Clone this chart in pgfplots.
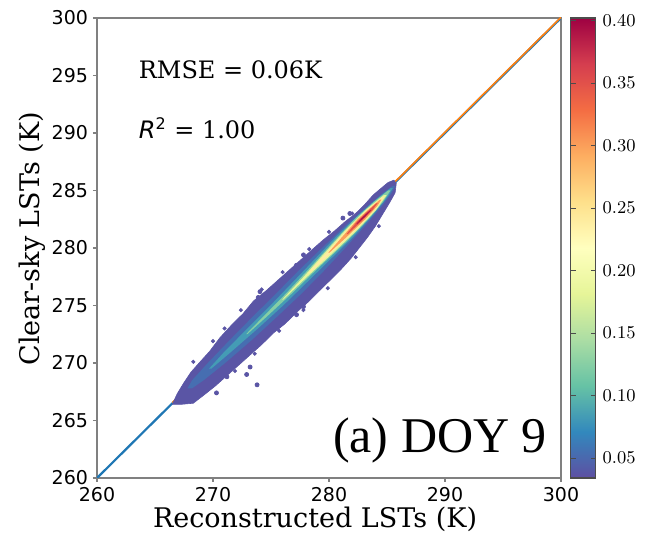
\documentclass[border=0pt]{standalone}
\usepackage{fontspec}
\setmainfont{DejaVu Serif}
\newfontfamily\djs{DejaVu Sans}
\newfontfamily\tnr{Liberation Serif}
\usepackage{pgfplots}
\pgfplotsset{compat=1.18}

% Spectral_r
\pgfplotsset{colormap={spectralr}{HTML=(5E4FA2) HTML=(3288BD) HTML=(66C2A5) HTML=(ABDDA4) HTML=(E6F598) HTML=(FFFFBF) HTML=(FEE08B) HTML=(FDAE61) HTML=(F46D43) HTML=(D53E4F) HTML=(9E0142)}}
\definecolor{sp0}{HTML}{5E4FA2}
\definecolor{sp1}{HTML}{3288BD}
\definecolor{sp2}{HTML}{66C2A5}
\definecolor{sp3}{HTML}{ABDDA4}
\definecolor{sp4}{HTML}{E6F598}
\definecolor{sp5}{HTML}{FFFFBF}
\definecolor{sp6}{HTML}{FEE08B}
\definecolor{sp7}{HTML}{FDAE61}
\definecolor{sp8}{HTML}{F46D43}
\definecolor{sp9}{HTML}{D53E4F}
\definecolor{sp10}{HTML}{9E0142}
\colorlet{lv1}{sp0!90!sp1}
\colorlet{lv2}{sp1!55!sp0}
\colorlet{lv3}{sp2!35!sp1}
\colorlet{lv4}{sp3!45!sp2}
\colorlet{lv5}{sp4}
\colorlet{lv6}{sp6!60!sp5}
\colorlet{lv7}{sp8!25!sp7}
\colorlet{lv8}{sp9!60!sp8}
\colorlet{lv9}{sp10!70!sp9}
\definecolor{tabblue}{HTML}{1F77B4}
\definecolor{taborange}{HTML}{FF7F0E}
\definecolor{frame}{HTML}{808080}

\begin{document}
\begin{tikzpicture}
\begin{axis}[
    name=ax,
    width=232pt, height=230pt,
    scale only axis,
    xmin=260, xmax=300,
    ymin=260, ymax=300,
    xtick={260,270,280,290,300},
    ytick={260,265,270,275,280,285,290,295,300},
    axis line style={frame, line width=0.8pt},
    tick style={frame, line width=0.6pt},
    tick align=outside,
    major tick length=2pt,
    xtick pos=bottom, ytick pos=left,
    xlabel={Reconstructed LSTs (K)},
    ylabel={Clear-sky LSTs (K)},
    label style={font=\fontsize{13.5}{16}\selectfont},
    xlabel style={at={(axis description cs:0.47,-0.09)}, anchor=center},
    ylabel style={at={(axis description cs:-0.14,0.52)}, anchor=center},
    tick label style={font=\djs\fontsize{9.5}{11}\selectfont},
    xticklabel style={yshift=1pt},
    yticklabel style={xshift=1pt},
    /pgf/number format/assume math mode=true,
    colormap name=spectralr,
    colorbar,
    point meta min=0.034, point meta max=0.402,
    colorbar style={
        at={(parent axis.north east)}, anchor=north west,
        xshift=-3.7pt,
        width=12.5pt,
        ytick={0.05,0.10,0.15,0.20,0.25,0.30,0.35,0.40},
        yticklabel style={font=\djs\fontsize{9.5}{11}\selectfont,
            /pgf/number format/.cd, fixed, fixed zerofill, precision=2},
        axis line style={black!70, line width=0.6pt},
        tick style={black!70},
        major tick length=2.5pt,
        scaled y ticks=false,
    },
]

% 1:1 line and fitted line
\addplot[tabblue, line width=1.1pt] coordinates {(260,260) (300,300)};
\addplot[taborange, line width=0.8pt, yshift=0.35pt] coordinates {(266.5,266.5) (300,300)};

% density layers of the point cloud, outermost first
\addplot[fill=lv1, draw=lv1, line width=0.3pt] coordinates {
 (266.5,266.4) (266.9,267.3) (267.5,268.3) (268.1,269.2) (268.8,270.0)
 (269.7,271.0) (270.6,272.2) (271.6,273.3) (272.6,274.3) (273.5,275.4)
 (274.6,276.3) (275.6,277.2) (276.6,278.1) (277.6,279.0) (278.6,279.9)
 (279.5,280.7) (280.5,281.5) (281.4,282.3) (282.3,283.0) (283.1,283.8)
 (283.8,284.6) (284.5,285.2) (285.1,285.7) (285.6,285.9)
 (285.8,285.6) (285.7,284.8) (285.2,283.9) (284.6,282.9) (284.0,281.9)
 (283.3,280.9) (282.6,280.0) (281.9,279.1) (281.0,278.1) (280.1,277.2)
 (279.2,276.3) (278.2,275.3) (277.2,274.4) (276.2,273.4) (275.2,272.6)
 (274.2,271.6) (273.2,270.7) (272.2,269.8) (271.2,268.9) (270.2,268.0)
 (269.2,267.2) (268.3,266.5) (267.2,266.4)
} -- cycle;

\addplot[fill=lv2, draw=none] coordinates {
 (267.8,267.8) (268.2,268.5) (269.55,270.0) (271.45,272.0) (273.4,274.0)
 (275.4,276.0) (277.35,278.0) (279.4,280.0) (281.48,282.0) (283.15,283.5)
 (284.55,284.7) (285.48,285.4)
 (285.72,285.4) (285.35,284.7) (284.45,283.5) (283.18,282.0) (281.4,280.0)
 (279.55,278.0) (277.6,276.0) (275.5,274.0) (273.35,272.0) (271.05,270.0)
 (269.2,268.5) (268.2,267.8)
} -- cycle;

\addplot[fill=lv3, draw=none] coordinates {
 (269.65,269.5) (271.0,271.0) (272.97,273.0) (274.95,275.0) (277.8,278.0)
 (280.62,281.0) (282.7,283.0) (284.4,284.5) (285.3,285.2)
 (285.5,285.2) (285.1,284.5) (283.9,283.0) (282.12,281.0) (279.1,278.0)
 (276.05,275.0) (273.87,273.0) (271.6,271.0) (269.85,269.5)
} -- cycle;

\addplot[fill=lv4, draw=none] coordinates {
 (272.85,272.5) (274.3,274.0) (276.25,276.0) (278.1,278.0) (280.35,280.5)
 (282.2,282.5) (283.85,284.0) (285.1,285.0)
 (285.3,285.0) (284.65,284.0) (283.4,282.5) (281.45,280.5) (278.8,278.0)
 (276.75,276.0) (274.6,274.0) (272.95,272.5)
} -- cycle;

\addplot[fill=lv5, draw=none] coordinates {
 (275.96,275.5) (277.82,277.5) (279.57,279.5) (281.37,281.5) (283.15,283.3)
 (284.73,284.6)
 (284.97,284.6) (284.05,283.3) (282.37,281.5) (280.27,279.5) (278.12,277.5)
 (276.04,275.5)
} -- cycle;

\addplot[fill=lv6, draw=none] coordinates {
 (278.19,277.8) (279.98,279.8) (281.75,281.8) (283.35,283.4) (284.55,284.4)
 (284.75,284.4) (284.05,283.4) (282.55,281.8) (280.42,279.8) (278.31,277.8)
} -- cycle;

\addplot[fill=lv7, draw=none] coordinates {
 (279.95,279.6) (281.17,281.0) (282.47,282.5) (283.8,283.7) (284.39,284.2)
 (284.51,284.2) (284.2,283.7) (283.13,282.5) (281.57,281.0) (280.05,279.6)
} -- cycle;

\addplot[fill=lv8, draw=none] coordinates {
 (281.5,281.2) (282.42,282.3) (283.45,283.3) (284.11,283.9)
 (284.19,283.9) (283.75,283.3) (282.78,282.3) (281.6,281.2)
} -- cycle;

\addplot[fill=lv9, draw=none] coordinates {
 (282.37,282.1) (282.9,282.7) (283.57,283.3)
 (283.63,283.3) (283.1,282.7) (282.43,282.1)
} -- cycle;

% sparse points on the rim of the cloud
\addplot[only marks, mark=*, mark size=0.8pt, color=lv1] coordinates {
 (268.3,270.1) (270.0,271.9) (271.0,273.0) (272.4,274.6) (274.2,276.4)
 (276.0,277.9) (278.3,279.9) (280.0,281.4) (282.0,283.0)
 (271.9,269.3) (273.6,270.8) (275.7,272.8) (277.8,274.6) (279.9,276.5)
 (282.3,279.2) (284.3,281.9)
};

% scattered outliers
\addplot[only marks, mark=*, mark size=1pt, color=lv1] coordinates {
 (281.2,282.6) (281.8,283.0) (277.8,279.4) (277.2,278.5) (274.05,276.2)
 (273.9,275.7) (277.8,274.9) (277.2,274.2) (275.5,273.1) (273.2,269.65)
 (272.9,269.0) (273.8,268.1) (270.3,267.4) (272.2,270.1) (271.2,268.8)
};

\node[anchor=west, font=\fontsize{12}{14}\selectfont] at (axis cs:263.0,295.5) {RMSE = 0.06K};
\node[anchor=west, font=\fontsize{12}{14}\selectfont] at (axis cs:263.0,290.4) {{\djs\itshape R}\textsuperscript{\djs 2} = 1.00};
\node[anchor=east, font=\tnr\fontsize{25}{28}\selectfont] at (axis cs:299.4,263.3) {(a) DOY 9};

\end{axis}
\pgfresetboundingbox
\path (ax.south west) ++(-48.5pt,-27.5pt) rectangle ++(324.5pt,266.5pt);
\end{tikzpicture}
\end{document}
